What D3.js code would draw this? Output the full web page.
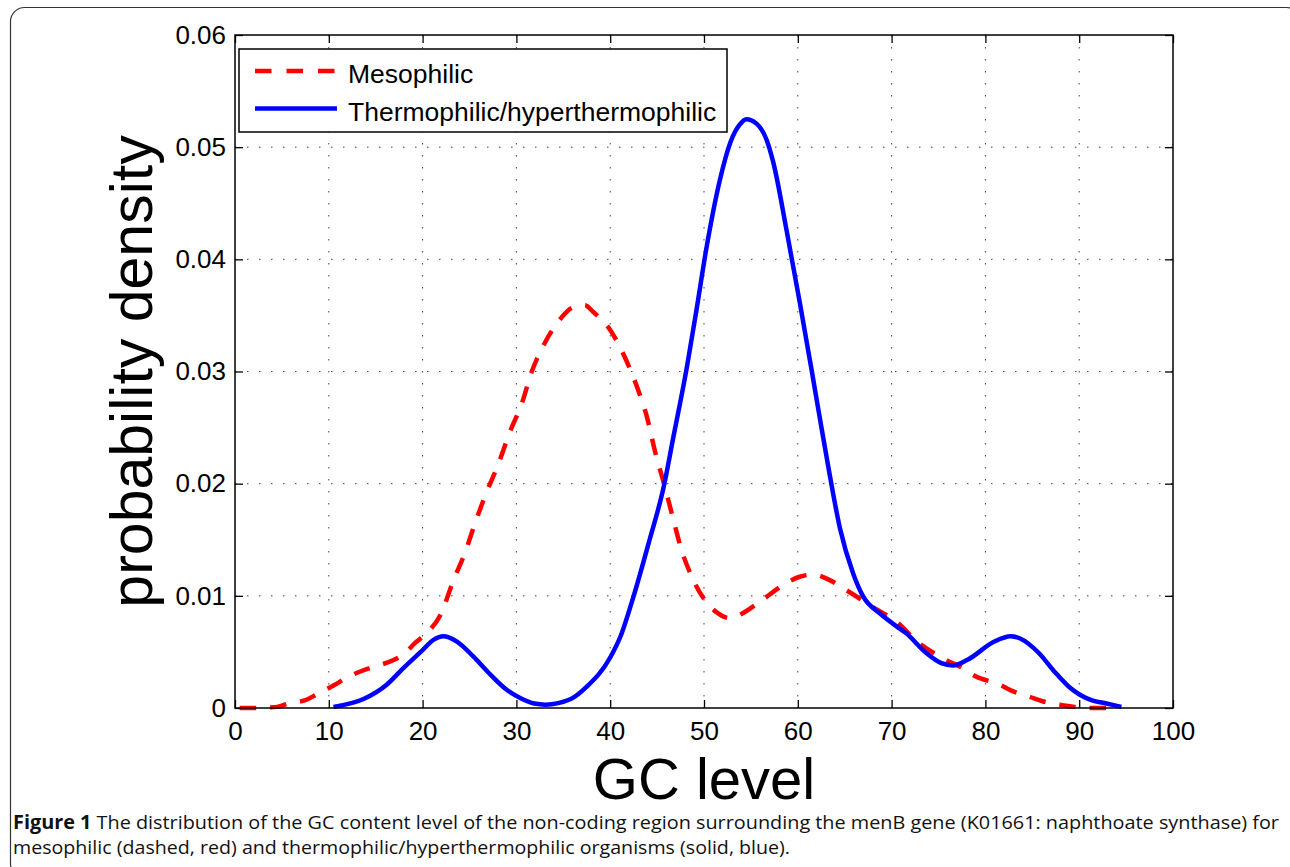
<!DOCTYPE html>
<html>
<head>
<meta charset="utf-8">
<script src="https://cdn.jsdelivr.net/npm/d3@7"></script>
<style>
  html, body { margin: 0; padding: 0; background: #fff; }
  svg { display: block; }
</style>
</head>
<body>
<svg id="chart" width="1290" height="867"></svg>
<script>
// GC level values, one list per curve
var mesoGC = [0.5, 2.3, 4.5, 5.7, 7.5, 8.9, 10.5, 11.9, 13.5, 14.9, 16.7, 18.0, 19.2, 20.6, 21.9,
    23.3, 24.5, 25.6, 26.8, 28.1, 29.3, 30.6, 31.6, 33.0, 34.6, 36.0, 37.3, 38.2, 40.0, 41.6,
    43.0, 43.9, 44.8, 45.8, 46.7, 47.6, 48.7, 50.1, 51.4, 52.8, 53.8, 56.0, 58.5, 60.2, 61.7,
    63.4, 65.2, 68.0, 70.5, 72.9, 74.5, 76.0, 77.5, 79.0, 81.5, 82.9, 84.7, 86.1, 87.9, 89.5,
    91.3, 92.9];
var mesoDensity = [0, 0, 0.0001, 0.0004, 0.0007, 0.0013, 0.0020, 0.0027, 0.0033, 0.0037, 0.0042, 0.0048, 0.0058, 0.0068, 0.0083,
    0.0114, 0.0138, 0.0165, 0.0192, 0.0218, 0.0246, 0.0272, 0.0299, 0.0325, 0.0346, 0.0357, 0.0359, 0.0353, 0.0337, 0.0312,
    0.0283, 0.0260, 0.0228, 0.0198, 0.0169, 0.0141, 0.0117, 0.0096, 0.0085, 0.0080, 0.0083, 0.0095, 0.0110, 0.0117, 0.0119,
    0.0114, 0.0105, 0.0090, 0.0077, 0.0058, 0.0049, 0.0042, 0.0036, 0.0028, 0.0021, 0.0015, 0.0010, 0.0006, 0.0003, 0.0001,
    0, 0];

var thermoGC = [10.5, 13.7, 16.2, 18.0, 19.8, 21.2, 22.2, 23.7, 25.4, 27.2, 29.0, 30.4, 31.9, 33.1, 35.8,
    37.5, 40.0, 41.2, 42.4, 44.2, 45.7, 46.7, 48.2, 49.2, 50.3, 51.7, 52.8, 53.8, 54.5, 55.6,
    56.7, 57.4, 58.8, 60.2, 61.5, 62.4, 63.4, 64.5, 65.9, 67.0, 68.8, 70.5, 71.5, 73.7, 75.3,
    76.5, 78.1, 80.9, 82.7, 83.7, 85.7, 87.3, 88.9, 91.3, 92.9, 94.5];
var thermoDensity = [0.0001, 0.0008, 0.0021, 0.0036, 0.0050, 0.0061, 0.0064, 0.0059, 0.0046, 0.0030, 0.0016, 0.0009, 0.0004, 0.0003, 0.0008,
    0.0019, 0.0045, 0.0066, 0.0097, 0.0150, 0.0197, 0.0240, 0.0305, 0.0355, 0.0412, 0.0471, 0.0504, 0.0520, 0.0525, 0.0521,
    0.0506, 0.0486, 0.0426, 0.0362, 0.0300, 0.0256, 0.0208, 0.0160, 0.0120, 0.0099, 0.0084, 0.0073, 0.0067, 0.0049, 0.0040,
    0.0038, 0.0043, 0.0059, 0.0064, 0.0062, 0.0049, 0.0033, 0.0019, 0.0007, 0.0004, 0.0001];

var xTicks = [0, 10, 20, 30, 40, 50, 60, 70, 80, 90, 100];
var yTicks = [0, 0.01, 0.02, 0.03, 0.04, 0.05, 0.06];
var seriesNames = ["Mesophilic", "Thermophilic/hyperthermophilic"];
var xLabel = "GC level";
var yLabel = "probability density";
var captionBold = "Figure 1";
var captionLine1 = " The distribution of the GC content level of the non-coding region surrounding the menB gene (K01661: naphthoate synthase) for";
var captionLine2 = "mesophilic (dashed, red) and thermophilic/hyperthermophilic organisms (solid, blue).";

var LEFT = 235, TOP = 35, RIGHT = 1173, BOTTOM = 708;
var TICK = 8;
var FONT = "'Liberation Sans', Arial, Helvetica, sans-serif";
var CAPFONT = "'Open Sans', sans-serif";

var svg = d3.select("#chart");

// page frame (rounded, partly cut by the picture edge)
svg.append("rect")
    .attr("x", 10.5).attr("y", 7.5)
    .attr("width", 1290).attr("height", 870)
    .attr("rx", 14)
    .style("fill", "none")
    .style("stroke", "#333")
    .style("stroke-width", 1.2);

var x = d3.scaleLinear().domain([0, 100]).range([LEFT, RIGHT]);
var y = d3.scaleLinear().domain([0, 0.06]).range([BOTTOM, TOP]);

var plot = svg.append("g");

// dotted grid
plot.selectAll(".vgrid").data(xTicks.slice(1, -1)).enter().append("line")
    .attr("x1", function(d){ return x(d); }).attr("x2", function(d){ return x(d); })
    .attr("y1", TOP).attr("y2", BOTTOM)
    .style("stroke", "#444").style("stroke-width", 1)
    .style("stroke-dasharray", "1.5,10.5");
plot.selectAll(".hgrid").data(yTicks.slice(1, -1)).enter().append("line")
    .attr("x1", LEFT).attr("x2", RIGHT)
    .attr("y1", function(d){ return y(d); }).attr("y2", function(d){ return y(d); })
    .style("stroke", "#444").style("stroke-width", 1)
    .style("stroke-dasharray", "1.5,10.5");

// axes with inward ticks (MATLAB look)
var yFmt = function(d){ return d === 0 ? "0" : d3.format(".2f")(d); };

var gx = plot.append("g").attr("transform", "translate(0," + BOTTOM + ")")
    .call(d3.axisBottom(x).tickValues(xTicks).tickSizeInner(-TICK).tickSizeOuter(0).tickPadding(13.5));
var gxTop = plot.append("g").attr("transform", "translate(0," + TOP + ")")
    .call(d3.axisTop(x).tickValues(xTicks).tickSizeInner(-TICK).tickSizeOuter(0).tickFormat(""));
var gy = plot.append("g").attr("transform", "translate(" + LEFT + ",0)")
    .call(d3.axisLeft(y).tickValues(yTicks).tickSizeInner(-TICK).tickSizeOuter(0).tickPadding(9).tickFormat(yFmt));
var gyRight = plot.append("g").attr("transform", "translate(" + RIGHT + ",0)")
    .call(d3.axisRight(y).tickValues(yTicks).tickSizeInner(-TICK).tickSizeOuter(0).tickFormat(""));

[gx, gxTop, gy, gyRight].forEach(function(g){
    g.select(".domain").remove();
    g.selectAll(".tick line").style("stroke", "#000").style("stroke-width", 1.3);
    g.selectAll("text").style("font-family", FONT).style("font-size", "26px").style("fill", "#000");
});

// curves
var lineGen = d3.line()
    .x(function(d){ return x(d[0]); })
    .y(function(d){ return y(d[1]); })
    .curve(d3.curveMonotoneX);

var mesoPts = d3.zip(mesoGC, mesoDensity);
var thermoPts = d3.zip(thermoGC, thermoDensity);

plot.append("path").datum(mesoPts)
    .attr("d", lineGen)
    .style("fill", "none").style("stroke", "#ff0000")
    .style("stroke-width", 4.5).style("stroke-dasharray", "16.5,14");

plot.append("path").datum(thermoPts)
    .attr("d", lineGen)
    .style("fill", "none").style("stroke", "#0000ff")
    .style("stroke-width", 4.5).style("stroke-linejoin", "round");

// axes box
plot.append("rect")
    .attr("x", LEFT).attr("y", TOP)
    .attr("width", RIGHT - LEFT).attr("height", BOTTOM - TOP)
    .style("fill", "none").style("stroke", "#000").style("stroke-width", 1.5);

// legend
var legend = svg.append("g");
legend.append("rect")
    .attr("x", 239).attr("y", 49).attr("width", 488).attr("height", 83)
    .style("fill", "#fff").style("stroke", "#000").style("stroke-width", 1.5);

var legendRows = [
    { name: seriesNames[0], color: "#ff0000", dash: "16.5,15" },
    { name: seriesNames[1], color: "#0000ff", dash: null }
];
legendRows.forEach(function(row, i){
    var ly = 71 + i * 37.5;
    legend.append("line")
        .attr("x1", 255).attr("x2", 337)
        .attr("y1", ly).attr("y2", ly)
        .style("stroke", row.color).style("stroke-width", 4.5)
        .style("stroke-dasharray", row.dash);
    legend.append("text")
        .attr("x", 348).attr("y", ly + 12)
        .text(row.name)
        .style("font-family", FONT).style("font-size", "26.5px");
});

// axis titles
svg.append("text")
    .attr("x", (LEFT + RIGHT) / 2).attr("y", 799)
    .attr("text-anchor", "middle")
    .text(xLabel)
    .style("font-family", FONT).style("font-size", "58px");

svg.append("text")
    .attr("transform", "translate(152," + ((TOP + BOTTOM) / 2) + ") rotate(-90)")
    .attr("text-anchor", "middle")
    .text(yLabel)
    .style("font-family", FONT).style("font-size", "59px");

// caption
var cap1 = svg.append("text")
    .attr("x", 13).attr("y", 829)
    .attr("textLength", 1266).attr("lengthAdjust", "spacingAndGlyphs")
    .style("font-family", CAPFONT).style("font-size", "19px").style("fill", "#111");
cap1.append("tspan").style("font-weight", "bold").text(captionBold);
cap1.append("tspan").text(captionLine1);

svg.append("text")
    .attr("x", 13).attr("y", 854)
    .attr("textLength", 777).attr("lengthAdjust", "spacingAndGlyphs")
    .text(captionLine2)
    .style("font-family", CAPFONT).style("font-size", "19px").style("fill", "#111");
</script>
</body>
</html>
